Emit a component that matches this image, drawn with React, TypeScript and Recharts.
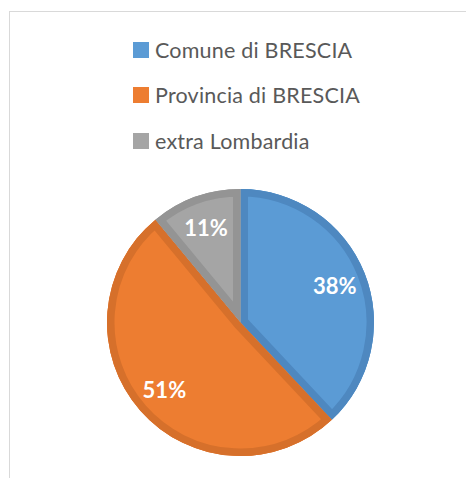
import React from 'react';
import { PieChart, Pie, Cell, Legend, Sector } from 'recharts';

const categories = ['Comune di BRESCIA', 'Provincia di BRESCIA', 'extra Lombardia'];
const values = [38, 51, 11];
const fills = ['#5B9BD5', '#ED7D31', '#A5A5A5'];
const strokes = ['#4E88C0', '#D6702B', '#949494'];

const data = categories.map((name, i) => ({ name, value: values[i] }));

const BORDER = 7.5;

const renderLabel = (props: any) => {
  const { cx, cy, startAngle, endAngle, innerRadius, outerRadius, midAngle, percent, index } = props;
  const RAD = Math.PI / 180;
  const r = outerRadius * 0.76;
  const x = cx + r * Math.cos(-midAngle * RAD);
  const y = cy + r * Math.sin(-midAngle * RAD);
  const clipId = `sector-clip-${index}`;
  return (
    <g>
      <defs>
        <clipPath id={clipId}>
          <Sector cx={cx} cy={cy} startAngle={startAngle} endAngle={endAngle} innerRadius={innerRadius} outerRadius={outerRadius} />
        </clipPath>
      </defs>
      <g clipPath={`url(#${clipId})`}>
        <Sector
          cx={cx}
          cy={cy}
          startAngle={startAngle}
          endAngle={endAngle}
          innerRadius={innerRadius}
          outerRadius={outerRadius}
          fill={fills[index]}
          stroke={strokes[index]}
          strokeWidth={BORDER * 2}
          strokeLinejoin="miter"
        />
      </g>
      <text
        x={x}
        y={y}
        fill="#FFFFFF"
        textAnchor="middle"
        dominantBaseline="central"
        style={{ fontFamily: 'Lato, "Open Sans", sans-serif', fontWeight: 700, fontSize: 22 }}
      >
        {`${Math.round(percent * 100)}%`}
      </text>
    </g>
  );
};

const renderLegend = (props: any) => {
  const { payload } = props;
  return (
    <div style={{ paddingLeft: 133, paddingTop: 27 }}>
      {(payload || []).map((entry: any, i: number) => (
        <div key={i} style={{ display: 'flex', alignItems: 'center', height: 45.5 }}>
          <span style={{ width: 16, height: 16, background: entry.color, display: 'inline-block', marginRight: 6 }} />
          <span style={{ fontFamily: 'Lato, "Open Sans", sans-serif', fontSize: 21.5, letterSpacing: 0.2, color: '#595959', lineHeight: '22px' }}>
            {entry.value}
          </span>
        </div>
      ))}
    </div>
  );
};

export default function App() {
  return (
    <div style={{ position: 'absolute', left: 0, top: 0, width: 466, height: 478, overflow: 'hidden', background: '#FFFFFF' }}>
      <div style={{ position: 'absolute', left: 9, top: 11, width: 480, height: 490, border: '1px solid #D9D9D9', boxSizing: 'border-box' }} />
      <div style={{ position: 'absolute', left: 0, top: 0 }}>
        <PieChart width={466} height={478} margin={{ top: 0, right: 0, bottom: 0, left: 0 }}>
          <Legend
            content={renderLegend}
            verticalAlign="bottom"
            wrapperStyle={{ position: 'absolute', top: 0, left: 0, bottom: 'auto', width: 466 }}
          />
          <Pie
            data={data}
            dataKey="value"
            nameKey="name"
            cx={240.5}
            cy={322.5}
            outerRadius={133.5}
            innerRadius={0}
            startAngle={90}
            endAngle={-270}
            stroke="none"
            isAnimationActive={false}
            labelLine={false}
            label={renderLabel}
          >
            {data.map((d, i) => (
              <Cell key={d.name} fill={fills[i]} stroke="none" />
            ))}
          </Pie>
        </PieChart>
      </div>
    </div>
  );
}
